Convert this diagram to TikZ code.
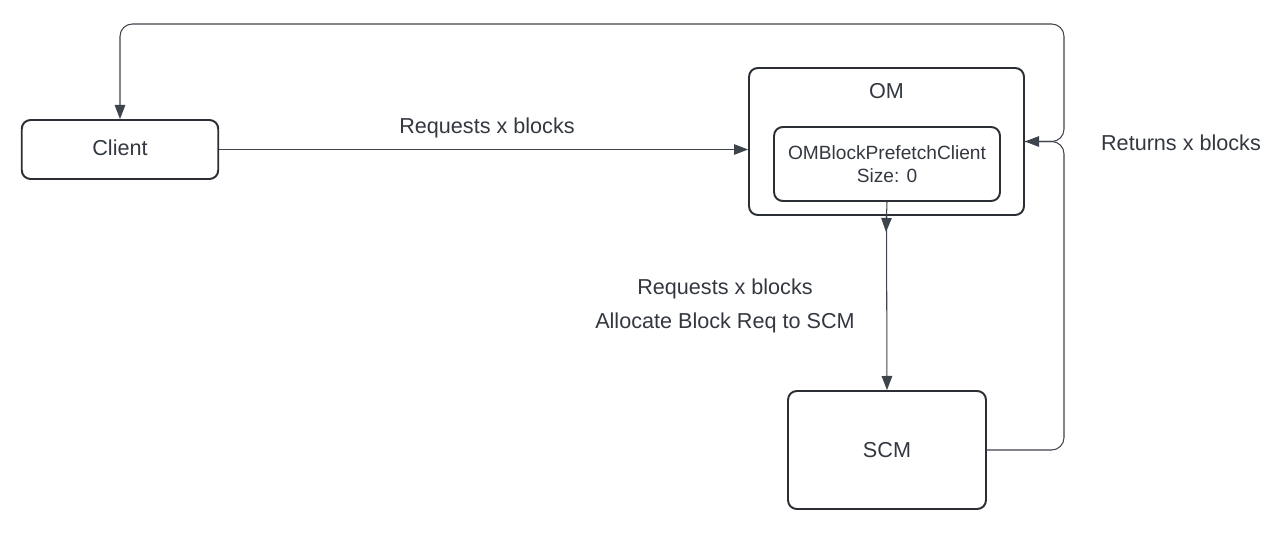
\documentclass[tikz,border=0pt]{standalone}
\usepackage{fontspec}
\setmainfont{Liberation Sans}
\usepackage{xcolor}
\usetikzlibrary{positioning,arrows.meta,calc}

\definecolor{boxline}{HTML}{2B2F35}
\definecolor{wireline}{HTML}{3E444C}
\definecolor{labeltext}{HTML}{333840}

\begin{document}
\begin{tikzpicture}[
    x=0.02cm, y=-0.02cm,
    box/.style = {
        rectangle,
        draw=boxline,
        line width=1.1pt,
        rounded corners=5pt,
        align=center,
        font=\fontsize{12.3}{14}\selectfont,
        text=labeltext,
        inner sep=0pt
    },
    outerbox/.style = {box, minimum width=5.5cm,  minimum height=2.94cm},
    innerbox/.style = {box, minimum width=4.52cm, minimum height=1.48cm, font=\fontsize{10.9}{13.2}\selectfont},
    endbox/.style   = {box, minimum width=3.93cm, minimum height=1.18cm},
    arrow/.style    = {-{Triangle[length=8pt,width=6pt]}, line width=0.6pt, draw=wireline, rounded corners=7pt},
    wirelabel/.style = {font=\fontsize{12.3}{14}\selectfont, text=labeltext, inner sep=1pt},
    line cap=round, line join=round
]

% Canvas
\useasboundingbox (0,0) rectangle (1286,534);

% Boxes
\node[endbox] (client) at (120,149.5) {\raisebox{2pt}{Client}};
\node[outerbox] (om) at (886.5,141.5) {};
\node[wirelabel] (omtitle) at (886.5,91) {OM};
\node[innerbox] (prefetch) at (887,164) {OMBlockPrefetchClient\\Size: 0};
\node[box, minimum width=3.96cm, minimum height=2.36cm] (scm) at (887,450) {SCM};

% Helper points
\coordinate (topright) at (1064,24);
\coordinate (omtip) at (886,232);

% Client to OM
\draw[arrow] (client.east) -- (om.west |- client.east);
\node[wirelabel] (reqclient) at (487,128) {Requests x blocks};

% OM back to Client, over the top
\draw[arrow] (om.east) -| (topright) -| (client.north);

% OM down to SCM
\draw[arrow, rounded corners=0pt] (prefetch.south) -- (omtip);
\draw[arrow, rounded corners=0pt] (om.south) -- (scm.north);
\node[wirelabel] (reqscm) at (725,289) {Requests x blocks};
\node[wirelabel] (allocscm) at (725,323) {Allocate Block Req to SCM};

% SCM returns to OM
\draw[arrow] (scm.east) -- (scm.east -| topright) |- (om.east);
\node[wirelabel] (returns) at (1181,143) {Returns x blocks};

\end{tikzpicture}
\end{document}
